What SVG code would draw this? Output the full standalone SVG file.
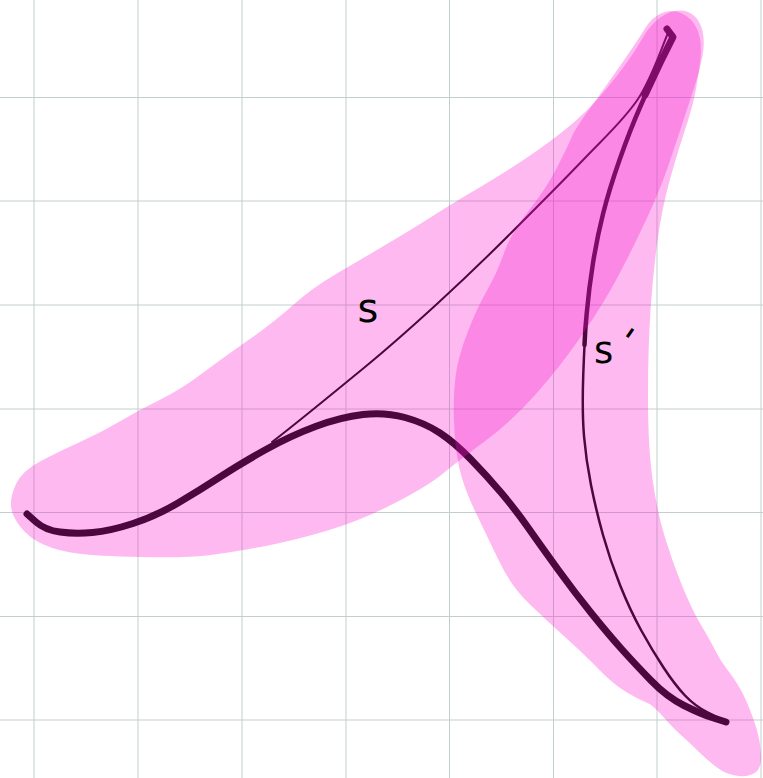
<svg xmlns="http://www.w3.org/2000/svg" width="763" height="778" viewBox="0 0 763 778">
<style>
.grid line{stroke:#c2cfce;stroke-width:1}
.ink{fill:none;stroke:#000000;stroke-linecap:round;stroke-linejoin:round}
.hl{fill:#f816cd;fill-opacity:0.3;stroke:none}
.lbl{font-family:"DejaVu Sans","Liberation Sans",sans-serif;fill:#000}
</style>
<rect width="763" height="778" fill="#ffffff"/>
<g class="grid" id="grid">
<line x1="34" y1="0" x2="34" y2="778"/>
<line x1="138" y1="0" x2="138" y2="778"/>
<line x1="242" y1="0" x2="242" y2="778"/>
<line x1="346" y1="0" x2="346" y2="778"/>
<line x1="449.5" y1="0" x2="449.5" y2="778"/>
<line x1="553.5" y1="0" x2="553.5" y2="778"/>
<line x1="657" y1="0" x2="657" y2="778"/>
<line x1="761" y1="0" x2="761" y2="778"/>
<line x1="0" y1="97.5" x2="763" y2="97.5"/>
<line x1="0" y1="201" x2="763" y2="201"/>
<line x1="0" y1="305" x2="763" y2="305"/>
<line x1="0" y1="409" x2="763" y2="409"/>
<line x1="0" y1="512.5" x2="763" y2="512.5"/>
<line x1="0" y1="616.5" x2="763" y2="616.5"/>
<line x1="0" y1="720" x2="763" y2="720"/>
</g>
<g id="connectors">
<path id="curve-main" class="ink" stroke-width="7" d="M27,514 L36,522 Q45,530 60,532 Q75,534 92.5,532.5 Q110,531 133,523.5 Q156,516 178,503 Q200,490 220,477 Q240,464 265,450 Q290,436 315.5,426.5 Q341,417 363,414.5 Q385,412 405,417.5 Q425,423 440,433 Q455,443 471,459.5 Q487,476 501,492.5 Q515,509 528,527.5 Q541,546 558,569.5 Q575,593 592,614 Q609,635 622,649.5 Q635,664 651,680.5 Q667,697 684,705.5 Q701,714 713.5,718 L726,722"/>
<path id="curve-s" class="ink" stroke-width="2" d="M668,33 C663,44 652,78 638,99 C624,120 605,137 584,159 C563,181 535,209 511,233 C487,257 462,281 438,303 C414,325 393,344 365,367 C337,390 288,430 272,442"/>
<path id="curve-s-prime" class="ink" stroke-width="2.5" d="M673,37 L662.5,58.5 Q652,80 641,105 Q630,130 619.5,160 Q609,190 603,214 Q597,238 593,263 Q589,288 586.75,313 Q584.5,338 583.25,375 Q582,412 584,436 Q586,460 591,485 Q596,510 603,535 Q610,560 620,585 Q630,610 641,630 Q652,650 663.5,667.5 Q675,685 685,695.5 Q695,706 707,712 L719,718"/>
<path class="ink" stroke-width="4.5" d="M667,29 L673,37 L662.5,58.5 Q652,80 641,105 Q630,130 619.5,160 Q609,190 603,214 Q597,238 593,263 Q589,288 586.75,313 Q585,330 584.5,345"/>
<path class="ink" stroke-width="7" d="M667,29 L673,37 L660,63 L645,95"/>
</g>
<g id="highlights">
<path id="blob-s" class="hl" d="M11,506.5 Q10,497 16,484 Q22,471 40,461.5 Q58,452 80,442 Q102,432 121.5,420.5 Q141,409 160.5,399.5 Q180,390 202,373.5 Q224,357 248.5,340 Q273,323 292.5,305.5 Q312,288 336,274 Q360,260 387,244 Q414,228 433.5,215.5 Q453,203 482,186 Q511,169 538,150 Q565,131 582,115 Q599,99 616,77 Q633,55 640.5,41.5 Q648,28 656.5,20.5 Q665,13 675,11 Q685,9 692.5,14.5 Q700,20 702.5,31 Q705,42 702.5,56 Q700,70 695,85 Q690,100 683.5,120 Q677,140 668.5,165 Q660,190 646.5,219 Q633,248 618.5,275.5 Q604,303 582,335 Q560,367 535.5,394.5 Q511,422 484.5,441.5 Q458,461 443,473.5 Q428,486 394,503.5 Q360,521 326,531 Q292,541 260.5,547 Q229,553 207,555.5 Q185,558 141,557 Q97,556 77.5,553.5 Q58,551 43.5,544.5 Q29,538 20.5,527 Q12,516 11,506.5 Z"/>
<path id="blob-s-prime" class="hl" d="M645,28.5 Q652,17 662,13 Q672,9 682,13.5 Q692,18 697,29 Q702,40 700.5,57 Q699,74 695.5,91.5 Q692,109 684.5,131.5 Q677,154 669.5,181 Q662,208 657.5,240.5 Q653,273 650.5,310 Q648,347 648,397 Q648,447 652.5,479 Q657,511 664.5,536 Q672,561 682,585.5 Q692,610 701,625 Q710,640 715,650 Q720,660 726.5,668.5 Q733,677 738,685 Q743,693 748,705 Q753,717 756.5,728.5 Q760,740 761,753.5 Q762,767 756,772 Q750,777 738.5,776 Q727,775 717,767.5 Q707,760 698.5,751.5 Q690,743 681.5,735.5 Q673,728 663,716.5 Q653,705 646.5,702.5 Q640,700 627,692.5 Q614,685 599.5,670 Q585,655 565.5,637.5 Q546,620 528.5,603 Q511,586 499,561 Q487,536 475,511 Q463,486 459,466.5 Q455,447 454,422 Q453,397 455.5,377 Q458,357 467.5,332.5 Q477,308 487,290.5 Q497,273 504,253 Q511,233 528.5,211 Q546,189 557,167.5 Q568,146 571.5,137.5 Q575,129 589.5,109 Q604,89 621,64.5 Q638,40 645,28.5 Z"/>
</g>
<g id="labels">
<text id="label-s" class="lbl" x="368" y="322" font-size="40" text-anchor="middle">s</text>
<text id="label-s-prime" class="lbl" x="594" y="363" font-size="37">s<tspan rotate="35" dx="0" dy="-15">'</tspan></text>
</g>
</svg>
